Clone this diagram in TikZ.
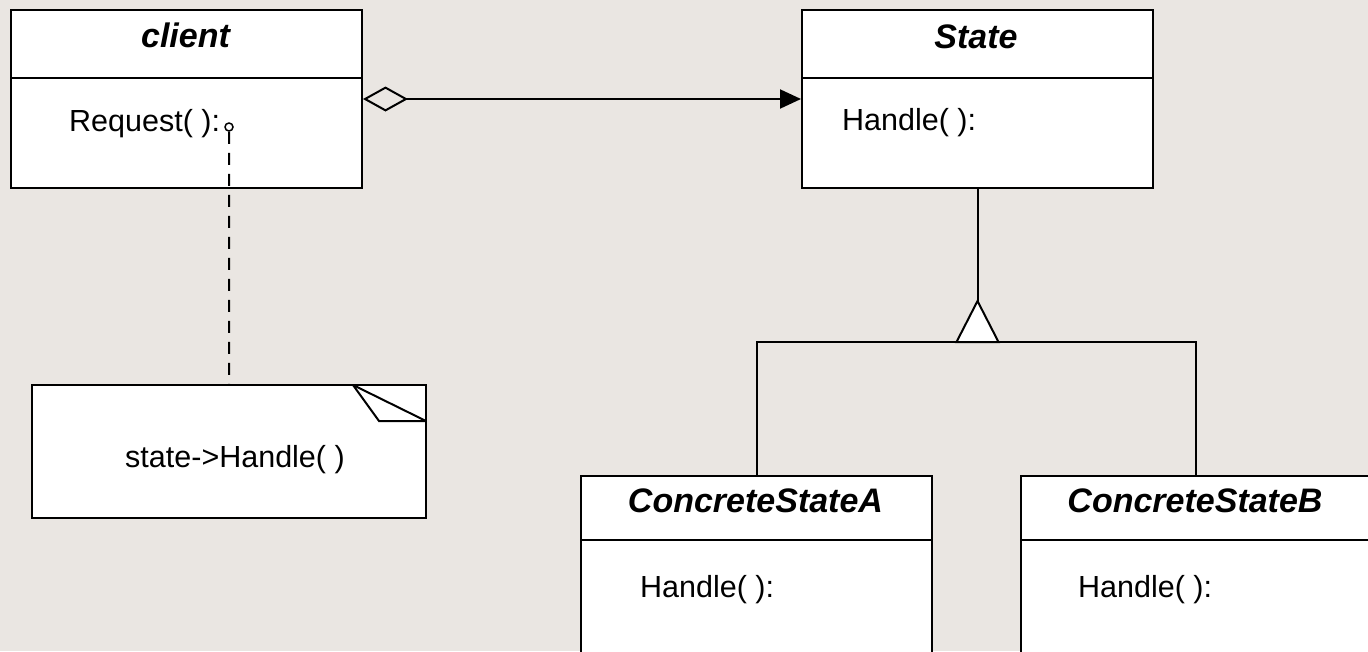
\documentclass[tikz,border=0pt]{standalone}
\usepackage{fontspec}
\setmainfont{Liberation Sans}
\usetikzlibrary{arrows.meta}
\definecolor{bgc}{RGB}{234,230,226}
\tikzset{
  ln/.style={line width=2pt, line join=miter},
  classbox/.style={ln, draw=black, fill=white, inner sep=0pt, anchor=north west},
  title/.style={inner sep=0pt, anchor=base, font=\fontsize{34}{40}\selectfont\bfseries\itshape},
  body/.style={inner sep=0pt, anchor=base west, font=\fontsize{30.5}{36}\selectfont},
}
\begin{document}
\begin{tikzpicture}[x=1pt,y=-1pt]
\fill[bgc] (0,0) rectangle (1368,651);
\useasboundingbox (0,0) rectangle (1368,651);
\clip (0,0) rectangle (1368,651);
% client
\node[classbox, minimum width=351pt, minimum height=178pt] (client) at (10,9) {};
\draw[ln] (client.west |- 0,78) -- (client.east |- 0,78);
\node[title] (clientT) at (185.5,47) {client};
\node[body] (clientOp) at (69,131) {Request( ):};
% State
\node[classbox, minimum width=351pt, minimum height=178pt] (state) at (801,9) {};
\draw[ln] (state.west |- 0,78) -- (state.east |- 0,78);
\node[title] (stateT) at (976,48) {State};
\node[body] (stateOp) at (842,130) {Handle( ):};
% ConcreteStateA
\node[classbox, minimum width=351pt, minimum height=240pt] (csa) at (580,475) {};
\draw[ln] (csa.west |- 0,540) -- (csa.east |- 0,540);
\node[title] (csaT) at (755.5,512) {ConcreteStateA};
\node[body] (csaOp) at (640,597) {Handle( ):};
% ConcreteStateB
\node[classbox, minimum width=350pt, minimum height=240pt] (csb) at (1020,475) {};
\draw[ln] (csb.west |- 0,540) -- (csb.east |- 0,540);
\node[title] (csbT) at (1195,512) {ConcreteStateB};
\node[body] (csbOp) at (1078,597) {Handle( ):};
% aggregation
\draw[ln, {Diamond[open,length=45pt,width=25pt]}-{Triangle[length=21pt,width=19pt]}] (client.east) -- (state.west);
% inheritance
\coordinate (apex) at (state.south |- 0,301);
\coordinate (junc) at (state.south |- 0,342);
\draw[ln] (state.south) -- (apex);
\draw[ln] (csa.north) |- (junc) -| (csb.north);
\draw[ln, fill=white] (apex) -- ([xshift=-21pt]junc) -- ([xshift=21pt]junc) -- cycle;
% note
\node[inner sep=0pt, fill=white, minimum width=394pt, minimum height=133pt, anchor=north west] (note) at (32,385) {};
\draw[ln] (note.north west) -- (note.north east) -- (note.south east) -- (note.south west) -- cycle;
\coordinate (fold) at (353,385);
\coordinate (foldr) at (426,421);
\draw[ln] (fold) -- (379,421) -- (foldr);
\draw[ln] (fold) -- (foldr);
\node[inner sep=0pt, anchor=base, font=\fontsize{30.5}{36}\selectfont] (noteT) at (235,467) {state->Handle( )};
% note link
\node[circle, draw, line width=1.5pt, fill=white, inner sep=0pt, minimum size=8pt] (port) at (229,127) {};
\draw[ln, dash pattern=on 12pt off 9pt] (port) -- (note.north);
\end{tikzpicture}
\end{document}
